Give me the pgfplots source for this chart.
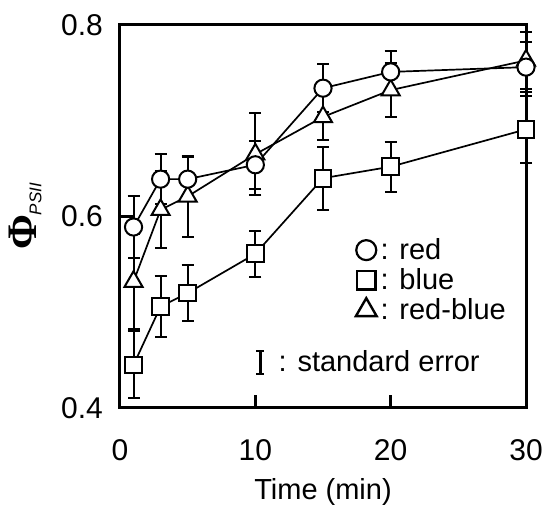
\documentclass[border=0pt]{standalone}
\usepackage{fontspec}
\setmainfont{Liberation Sans}
\newfontfamily\greekserif{Liberation Serif}
\usepackage{pgfplots}
\usepackage{pgfplotstable}
\pgfplotsset{compat=1.18}

% time (min), PhiPSII, standard error
\pgfplotstableread{
t y e
1 0.589 0.032
3 0.639 0.026
5 0.639 0.023
10 0.654 0.025
15 0.734 0.025
20 0.751 0.022
30 0.756 0.026
}\tabred
\pgfplotstableread{
t y e
1 0.445 0.035
3 0.506 0.032
5 0.520 0.029
10 0.561 0.024
15 0.640 0.033
20 0.652 0.026
30 0.691 0.035
}\tabblue
\pgfplotstableread{
t y e
1 0.532 0.050
3 0.607 0.040
5 0.621 0.042
10 0.665 0.043
15 0.704 0.024
20 0.732 0.028
30 0.763 0.030
}\tabredblue

\pgfplotsset{
  errplot/.style={only marks, mark=none, forget plot,
    error bars/.cd, y dir=both, y explicit,
    error bar style={black, line width=1pt},
    error mark options={black, rotate=90, mark size=3pt, line width=1pt}},
}

\begin{document}
\begin{tikzpicture}
\begin{axis}[
  width=203pt, height=191.5pt, scale only axis,
  xmin=0, xmax=30, ymin=0.4, ymax=0.8,
  xtick={0,10,20,30}, ytick={0.4,0.6,0.8},
  tick align=inside, tick pos=left,
  major tick length=6.5pt,
  axis line style={line width=1.5pt},
  every tick/.style={black, line width=1.3pt},
  tick label style={font=\fontsize{15}{17}\selectfont},
  /pgf/number format/assume math mode=true,
  yticklabel style={/pgf/number format/fixed, /pgf/number format/fixed zerofill,
    /pgf/number format/precision=1, xshift=-5pt},
  xticklabel style={yshift=-12pt},
  xlabel={Time (min)},
  xlabel style={font=\fontsize{14.5}{17}\selectfont, yshift=-2pt},
  ylabel={{\greekserif\bfseries\fontsize{21}{22}\selectfont Φ}\raisebox{-2.5pt}{\fontsize{8.5}{9}\selectfont\textit{PSII}}},
  ylabel style={yshift=3pt},
  clip=false,
  legend style={draw=none, fill=none, at={(rel axis cs:0.58,0.455)}, anchor=north west,
    font=\fontsize{14.5}{15}\selectfont, row sep=-1pt, inner sep=0pt,
    /tikz/every even column/.append style={column sep=5pt}},
  legend cell align=left,
]
% standard error bars
\addplot[errplot] table[x=t, y=y, y error=e] {\tabblue};
\addplot[errplot] table[x=t, y=y, y error=e] {\tabredblue};
\addplot[errplot] table[x=t, y=y, y error=e] {\tabred};
% series
\addplot[black, line width=0.85pt, mark=square*, mark size=4.2pt,
  mark options={fill=white, line width=1pt}, forget plot]
  table[x=t, y=y] {\tabblue};
\addplot[black, line width=0.85pt, mark=triangle*, mark size=5.2pt,
  mark options={fill=white, line width=1pt}, forget plot]
  table[x=t, y=y] {\tabredblue};
\addplot[black, line width=0.85pt, mark=*, mark size=4.3pt,
  mark options={fill=white, line width=1pt}, forget plot]
  table[x=t, y=y] {\tabred};
% legend
\addlegendimage{only marks, black, mark=*, mark size=5pt, mark options={fill=white, line width=1.1pt}}
\addlegendentry{: red}
\addlegendimage{only marks, black, mark=square*, mark size=4.7pt, mark options={fill=white, line width=1.2pt}}
\addlegendentry{: blue}
\addlegendimage{only marks, black, mark=triangle*, mark size=6pt, mark options={fill=white, line width=1.2pt}}
\addlegendentry{: red-blue}
\node[anchor=base west, font=\fontsize{14.5}{17}\selectfont, inner sep=0pt] (se)
  at (rel axis cs:0.39,0.095) {: standard error};
\coordinate (ll) at (rel axis cs:0,0);
\coordinate (ur) at (rel axis cs:1,1);
\end{axis}
% error-bar symbol in the key
\draw[line width=1.2pt] ([xshift=-9pt,yshift=-1pt]se.base west) -- ++(0,11.5pt);
\draw[line width=1pt] ([xshift=-11pt,yshift=-1pt]se.base west) -- ++(4pt,0)
  ([xshift=-11pt,yshift=10.5pt]se.base west) -- ++(4pt,0);
\pgfresetboundingbox
\path ([shift={(-60pt,-48.5pt)}]ll) rectangle ([shift={(9.5pt,12.5pt)}]ur);
\end{tikzpicture}
\end{document}
